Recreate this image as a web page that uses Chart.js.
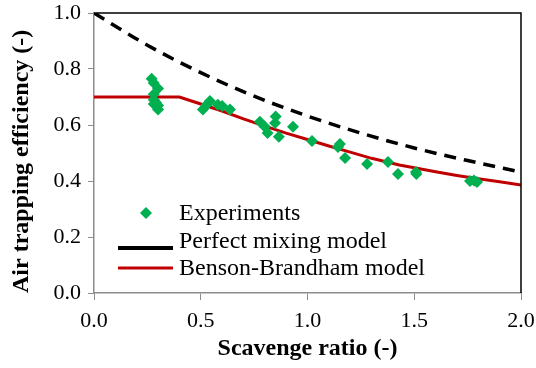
<!DOCTYPE html>
<html>
<head>
<meta charset="utf-8">
<script src="https://cdn.jsdelivr.net/npm/chart.js@4"></script>
<style>
  html, body { margin: 0; padding: 0; background: #fff; }
  #wrap { width: 536px; height: 368px; }
</style>
</head>
<body>
<div id="wrap"><canvas id="grafico" width="536" height="368"></canvas></div>
<script>
// Dados medidos (razão de lavagem x eficiência de aprisionamento)
const expScavenge = [0.27, 0.28, 0.30, 0.28, 0.28, 0.29, 0.30, 0.30, 0.28,
  0.51, 0.528, 0.543, 0.58, 0.60, 0.637,
  0.777, 0.80, 0.813, 0.851, 0.848, 0.866, 0.932, 1.021,
  1.143, 1.152, 1.176, 1.279, 1.377, 1.424, 1.508, 1.51,
  1.761, 1.78, 1.794];
const expTrapping = [0.765, 0.75, 0.73, 0.71, 0.69, 0.68, 0.67, 0.655, 0.675,
  0.655, 0.672, 0.686, 0.672, 0.668, 0.655,
  0.612, 0.594, 0.571, 0.63, 0.607, 0.558, 0.594, 0.543,
  0.521, 0.532, 0.482, 0.461, 0.468, 0.425, 0.432, 0.425,
  0.40, 0.402, 0.396];

// Modelo de mistura perfeita
const mixScavenge = [0, 0.25, 0.5, 0.75, 1.0, 1.25, 1.5, 1.75, 2.0];
const mixTrapping = [1.0, 0.885, 0.787, 0.703, 0.632, 0.571, 0.518, 0.473, 0.432];

// Modelo Benson-Brandham (patamar até 0.4 e depois queda)
const bbScavenge = [0, 0.40, 0.50, 0.60, 0.70, 0.80, 0.90, 1.0, 1.1, 1.2, 1.3, 1.43, 1.5, 1.6, 1.7, 1.8, 1.9, 2.0];
const bbTrapping = [0.70, 0.70, 0.675, 0.65, 0.622, 0.596, 0.571, 0.548, 0.525, 0.503, 0.481, 0.457, 0.447, 0.433, 0.42, 0.408, 0.397, 0.386];

// Marcas dos eixos
const xTicks = [0, 0.5, 1.0, 1.5, 2.0];
const yTicks = [0, 0.2, 0.4, 0.6, 0.8, 1.0];

const legendLabels = ['Experiments', 'Perfect mixing model', 'Benson-Brandham model'];

const verde = '#00B050';
const vermelho = '#C00000';
const cinza = '#8c8c8c';
const serif = "'Liberation Serif', 'Times New Roman', serif";

function pares(xs, ys) {
  return xs.map((x, i) => ({ x: x, y: ys[i] }));
}

// Moldura (topo e direita em preto) e legenda dentro da área do gráfico
const molduraLegenda = {
  id: 'molduraLegenda',
  afterDraw(chart) {
    const ctx = chart.ctx;
    const a = chart.chartArea;
    ctx.save();
    ctx.strokeStyle = '#000';
    ctx.lineWidth = 1.5;
    ctx.beginPath();
    ctx.moveTo(a.left, a.top);
    ctx.lineTo(a.right, a.top);
    ctx.lineTo(a.right, a.bottom);
    ctx.stroke();

    // legenda
    const lx = 118, tx = 179;
    const linhas = [220, 247.5, 275];
    ctx.fillStyle = verde;
    ctx.beginPath();
    ctx.moveTo(146, 207);
    ctx.lineTo(152, 213);
    ctx.lineTo(146, 219);
    ctx.lineTo(140, 213);
    ctx.closePath();
    ctx.fill();

    ctx.lineWidth = 4;
    ctx.strokeStyle = '#000';
    ctx.beginPath();
    ctx.moveTo(lx, 248);
    ctx.lineTo(lx + 55, 248);
    ctx.stroke();

    ctx.lineWidth = 3;
    ctx.strokeStyle = vermelho;
    ctx.beginPath();
    ctx.moveTo(lx, 268);
    ctx.lineTo(lx + 55, 268);
    ctx.stroke();

    ctx.fillStyle = '#000';
    ctx.font = '24px ' + serif;
    ctx.textBaseline = 'alphabetic';
    legendLabels.forEach((t, i) => ctx.fillText(t, tx, linhas[i]));
    ctx.restore();
  }
};

const ctxGrafico = document.getElementById('grafico').getContext('2d');
new Chart(ctxGrafico, {
  type: 'scatter',
  data: {
    datasets: [
      {
        label: legendLabels[0],
        data: pares(expScavenge, expTrapping),
        pointStyle: 'rectRot',
        pointRadius: 6,
        pointHoverRadius: 6,
        backgroundColor: verde,
        borderColor: verde,
        borderWidth: 0,
        order: 0
      },
      {
        label: legendLabels[1],
        data: pares(mixScavenge, mixTrapping),
        showLine: true,
        pointRadius: 0,
        borderColor: '#000',
        borderWidth: 3.5,
        borderDash: [12, 8],
        cubicInterpolationMode: 'monotone',
        order: 2
      },
      {
        label: legendLabels[2],
        data: pares(bbScavenge, bbTrapping),
        showLine: true,
        pointRadius: 0,
        borderColor: vermelho,
        borderWidth: 3,
        tension: 0,
        order: 1
      }
    ]
  },
  options: {
    responsive: false,
    animation: false,
    layout: { padding: { top: 13, right: 15, left: 0, bottom: 0 } },
    plugins: { legend: { display: false }, tooltip: { enabled: false } },
    scales: {
      x: {
        type: 'linear',
        min: 0,
        max: 2,
        afterBuildTicks: s => { s.ticks = xTicks.map(v => ({ value: v })); },
        afterFit: s => { s.height = 75; s.paddingLeft = 0; s.paddingRight = 0; },
        grid: { drawOnChartArea: false, color: cinza, tickLength: 7, tickWidth: 1 },
        border: { color: cinza, width: 1.5 },
        ticks: {
          color: '#000',
          font: { family: serif, size: 22 },
          padding: 8,
          maxRotation: 0,
          callback: v => v.toFixed(1)
        },
        title: {
          display: true,
          text: 'Scavenge ratio (-)',
          color: '#000',
          font: { family: serif, size: 24, weight: 'bold' },
          padding: { top: 0, bottom: 5 }
        }
      },
      y: {
        type: 'linear',
        min: 0,
        max: 1,
        afterBuildTicks: s => { s.ticks = yTicks.map(v => ({ value: v })); },
        afterFit: s => { s.width = 94; s.paddingTop = 0; s.paddingBottom = 0; },
        grid: { drawOnChartArea: false, color: cinza, tickLength: 6, tickWidth: 1 },
        border: { color: cinza, width: 1.5 },
        ticks: {
          color: '#000',
          font: { family: serif, size: 22 },
          padding: 7,
          callback: v => v.toFixed(1)
        },
        title: {
          display: true,
          text: 'Air trapping efficiency (-)',
          align: 'start',
          color: '#000',
          font: { family: serif, size: 24, weight: 'bold' },
          padding: { top: 7, bottom: 0 }
        }
      }
    }
  },
  plugins: [molduraLegenda]
});
</script>
</body>
</html>
